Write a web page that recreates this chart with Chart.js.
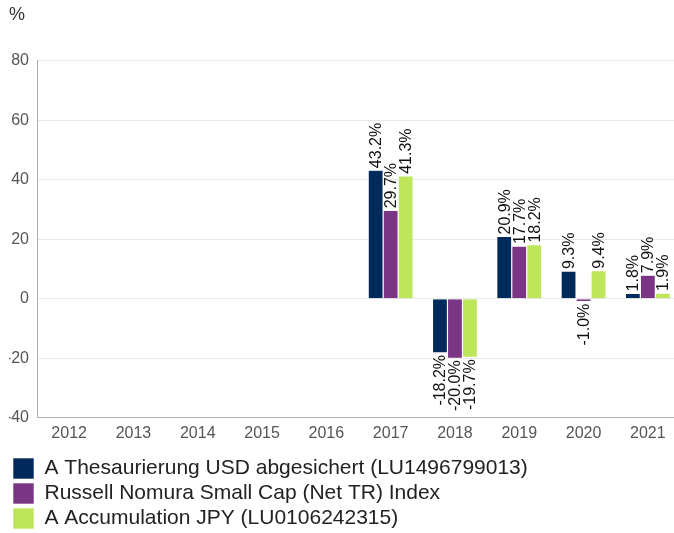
<!DOCTYPE html>
<html lang="de">
<head>
  <meta charset="UTF-8">
  <title>Wertentwicklung</title>
  <script src="https://cdn.jsdelivr.net/npm/chart.js"></script>
  <style>
    html, body { margin: 0; padding: 0; background: #fff; overflow: hidden; }
    #wrap { width: 674px; height: 533px; overflow: hidden; }
  </style>
</head>
<body>
  <!-- canvas a little wider than the window: the last category runs to the edge -->
  <div id="wrap"><canvas id="chart" width="682" height="533"></canvas></div>

  <script>
    const years = ['2012', '2013', '2014', '2015', '2016', '2017', '2018', '2019', '2020', '2021'];
    const fundUsd = [null, null, null, null, null, 43.2, -18.2, 20.9, 9.3, 1.8];
    const russellIndex = [null, null, null, null, null, 29.7, -20.0, 17.7, -1.0, 7.9];
    const fundJpy = [null, null, null, null, null, 41.3, -19.7, 18.2, 9.4, 1.9];
    const seriesNames = [
      'A Thesaurierung USD abgesichert (LU1496799013)',
      'Russell Nomura Small Cap (Net TR) Index',
      'A Accumulation JPY (LU0106242315)'
    ];
    const seriesColors = ['#002a5c', '#7b3585', '#bde65a'];

    const FONT = '"Liberation Sans", Arial, sans-serif';

    // value labels, rotated, at the end of each bar
    const barLabels = {
      id: 'barLabels',
      afterDatasetsDraw(chart) {
        const ctx = chart.ctx;
        ctx.save();
        ctx.font = '16px ' + FONT;
        ctx.fillStyle = '#111';
        ctx.textBaseline = 'middle';
        chart.data.datasets.forEach((ds, i) => {
          chart.getDatasetMeta(i).data.forEach((bar, j) => {
            const v = ds.data[j];
            if (v === null) return;
            const txt = v.toFixed(1) + '%';
            ctx.save();
            ctx.translate(bar.x, v >= 0 ? bar.y - 2 : bar.y + 2);
            ctx.rotate(-Math.PI / 2);
            ctx.textAlign = v >= 0 ? 'left' : 'right';
            ctx.fillText(txt, 0, 1);
            ctx.restore();
          });
        });
        ctx.restore();
      }
    };

    const ctx = document.getElementById('chart').getContext('2d');
    new Chart(ctx, {
      type: 'bar',
      data: {
        labels: years,
        datasets: [fundUsd, russellIndex, fundJpy].map((d, i) => ({
          label: seriesNames[i],
          data: d,
          backgroundColor: seriesColors[i],
          borderColor: '#ffffff',
          borderWidth: 0.6,
          categoryPercentage: 0.70,
          barPercentage: 1.0
        }))
      },
      options: {
        responsive: false,
        animation: false,
        layout: { padding: { left: 9, right: 2, top: 0, bottom: -6 } },
        scales: {
          x: {
            afterFit(scale) { scale.height += 5; },
            grid: { display: false, drawTicks: false },
            border: { color: '#b0b0b0' },
            ticks: {
              color: '#555',
              font: { family: FONT, size: 16 },
              padding: 6
            }
          },
          y: {
            min: -40,
            max: 80,
            afterFit(scale) { scale.width = 28; },
            grid: { color: '#e8e8e8', drawTicks: false },
            border: { color: '#b0b0b0' },
            ticks: {
              stepSize: 20,
              color: '#555',
              font: { family: FONT, size: 16 },
              padding: 8
            }
          }
        },
        plugins: {
          title: {
            display: true,
            text: '%',
            align: 'start',
            color: '#333',
            font: { family: FONT, size: 18, weight: 'normal' },
            padding: { top: 4, bottom: 35 }
          },
          legend: {
            position: 'bottom',
            align: 'start',
            labels: {
              boxWidth: 21,
              boxHeight: 21,
              padding: 4,
              color: '#222',
              font: { family: FONT, size: 21 }
            }
          },
          tooltip: { enabled: false }
        }
      },
      plugins: [barLabels]
    });
  </script>
</body>
</html>
